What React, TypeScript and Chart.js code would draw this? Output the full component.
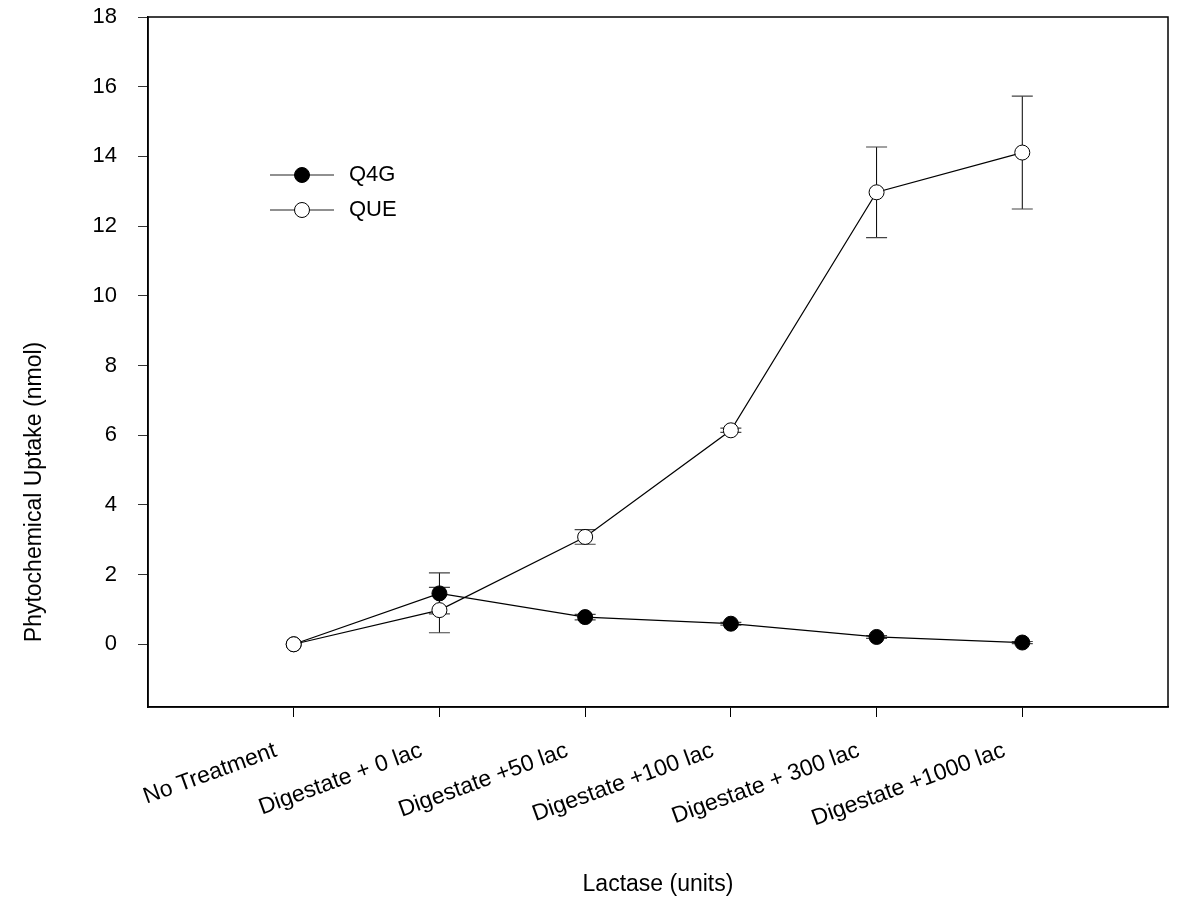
import React, { useEffect, useRef } from 'react';
import { Chart, registerables } from 'chart.js';

Chart.register(...registerables);

const categories = [
  'No Treatment',
  'Digestate + 0 lac',
  'Digestate +50 lac',
  'Digestate +100 lac',
  'Digestate + 300 lac',
  'Digestate +1000 lac',
];
const q4gValues = [0, 1.46, 0.78, 0.59, 0.21, 0.05];
const q4gErrors = [0, 0.59, 0.08, 0.04, 0.04, 0.03];
const queValues = [0, 0.98, 3.08, 6.14, 12.97, 14.11];
const queErrors = [0, 0.65, 0.21, 0.06, 1.3, 1.62];
const yTicks = [0, 2, 4, 6, 8, 10, 12, 14, 16, 18];
const seriesNames = ['Q4G', 'QUE'];
const xTitle = 'Lactase (units)';
const yTitle = 'Phytochemical Uptake (nmol)';

const FONT = '"Liberation Sans", Arial, sans-serif';

const errorBarPlugin = {
  id: 'errorBars',
  beforeDatasetsDraw(chart: any) {
    const ctx = chart.ctx;
    const yScale = chart.scales.y;
    chart.data.datasets.forEach((ds: any, di: number) => {
      const meta = chart.getDatasetMeta(di);
      const errs: number[] = ds.errors || [];
      meta.data.forEach((pt: any, i: number) => {
        const e = errs[i];
        if (!e) return;
        const v = ds.data[i].y;
        const x = pt.x;
        const yTop = yScale.getPixelForValue(v + e);
        const yBot = yScale.getPixelForValue(v - e);
        ctx.save();
        ctx.strokeStyle = '#000';
        ctx.lineWidth = 1;
        ctx.beginPath();
        ctx.moveTo(x, yTop);
        ctx.lineTo(x, yBot);
        ctx.stroke();
        ctx.strokeStyle = '#444';
        ctx.lineWidth = 1.2;
        ctx.beginPath();
        ctx.moveTo(x - 10.5, yTop);
        ctx.lineTo(x + 10.5, yTop);
        ctx.moveTo(x - 10.5, yBot);
        ctx.lineTo(x + 10.5, yBot);
        ctx.stroke();
        ctx.restore();
      });
    });
  },
};

const framePlugin = {
  id: 'frameAndText',
  afterDraw(chart: any) {
    const ctx = chart.ctx;
    const a = chart.chartArea;
    ctx.save();
    ctx.strokeStyle = '#000';
    ctx.lineWidth = 1.5;
    ctx.strokeRect(a.left, a.top, a.right - a.left, a.bottom - a.top);

    // axis titles
    ctx.fillStyle = '#000';
    ctx.font = `23px ${FONT}`;
    ctx.textAlign = 'center';
    ctx.textBaseline = 'middle';
    ctx.fillText(xTitle, (a.left + a.right) / 2, 885);
    ctx.save();
    ctx.translate(35, 492);
    ctx.rotate(-Math.PI / 2);
    ctx.fillText(yTitle, 0, 0);
    ctx.restore();

    // legend
    const legendRows = [
      { name: seriesNames[0], y: 175, fill: '#000' },
      { name: seriesNames[1], y: 210, fill: '#fff' },
    ];
    legendRows.forEach((r) => {
      ctx.strokeStyle = '#222';
      ctx.lineWidth = 1.2;
      ctx.beginPath();
      ctx.moveTo(270, r.y);
      ctx.lineTo(334, r.y);
      ctx.stroke();
      ctx.beginPath();
      ctx.arc(302, r.y, 7.5, 0, Math.PI * 2);
      ctx.fillStyle = r.fill;
      ctx.fill();
      ctx.strokeStyle = '#000';
      ctx.lineWidth = 1;
      ctx.stroke();
      ctx.fillStyle = '#000';
      ctx.font = `22px ${FONT}`;
      ctx.textAlign = 'left';
      ctx.textBaseline = 'middle';
      ctx.fillText(r.name, 349, r.y);
    });
    ctx.restore();
  },
};

export default function App() {
  const ref = useRef<HTMLCanvasElement | null>(null);
  useEffect(() => {
    if (!ref.current) return;
    const chart = new Chart(ref.current, {
      type: 'line',
      data: {
        datasets: [
          {
            label: seriesNames[0],
            data: q4gValues.map((v, i) => ({ x: i, y: v })),
            errors: q4gErrors,
            borderColor: '#000',
            borderWidth: 1.2,
            pointRadius: 7.5,
            pointBackgroundColor: '#000',
            pointBorderColor: '#000',
            pointBorderWidth: 1,
            order: 2,
          } as any,
          {
            label: seriesNames[1],
            data: queValues.map((v, i) => ({ x: i, y: v })),
            errors: queErrors,
            borderColor: '#000',
            borderWidth: 1.2,
            pointRadius: 7.5,
            pointBackgroundColor: '#fff',
            pointBorderColor: '#000',
            pointBorderWidth: 1,
            order: 1,
          } as any,
        ],
      },
      options: {
        responsive: false,
        animation: false,
        layout: { autoPadding: false, padding: { top: 17, right: 32, left: 0, bottom: 0 } },
        plugins: { legend: { display: false }, tooltip: { enabled: false } },
        scales: {
          x: {
            type: 'linear',
            min: -1,
            max: 6,
            afterBuildTicks: (scale: any) => {
              scale.ticks = categories.map((_, i) => ({ value: i }));
            },
            afterFit: (scale: any) => {
              scale.height = 193;
              scale.paddingLeft = 0;
              scale.paddingRight = 0;
            },
            grid: {
              drawOnChartArea: false,
              drawTicks: true,
              tickLength: 10,
              color: '#000',
            },
            border: { color: '#000', width: 1.5 },
            ticks: {
              autoSkip: false,
              minRotation: 20,
              maxRotation: 20,
              padding: 20,
              labelOffset: -18,
              color: '#000',
              font: { family: FONT, size: 23 },
              callback: (v: any) => categories[v as number] ?? '',
            },
          },
          y: {
            type: 'linear',
            min: -1.8,
            max: 18,
            afterBuildTicks: (scale: any) => {
              scale.ticks = yTicks.map((v) => ({ value: v }));
            },
            afterFit: (scale: any) => {
              scale.width = 148;
              scale.paddingTop = 0;
              scale.paddingBottom = 0;
            },
            grid: {
              drawOnChartArea: false,
              drawTicks: true,
              tickLength: 10,
              color: '#333',
            },
            border: { color: '#000', width: 1.5 },
            ticks: {
              padding: 21,
              color: '#000',
              font: { family: FONT, size: 22 },
            },
          },
        },
      },
      plugins: [errorBarPlugin, framePlugin],
    } as any);
    return () => chart.destroy();
  }, []);
  return (
    <div style={{ position: 'fixed', left: 0, top: 0, width: 1200, height: 900, background: '#fff' }}>
      <canvas ref={ref} width={1200} height={900} />
    </div>
  );
}
